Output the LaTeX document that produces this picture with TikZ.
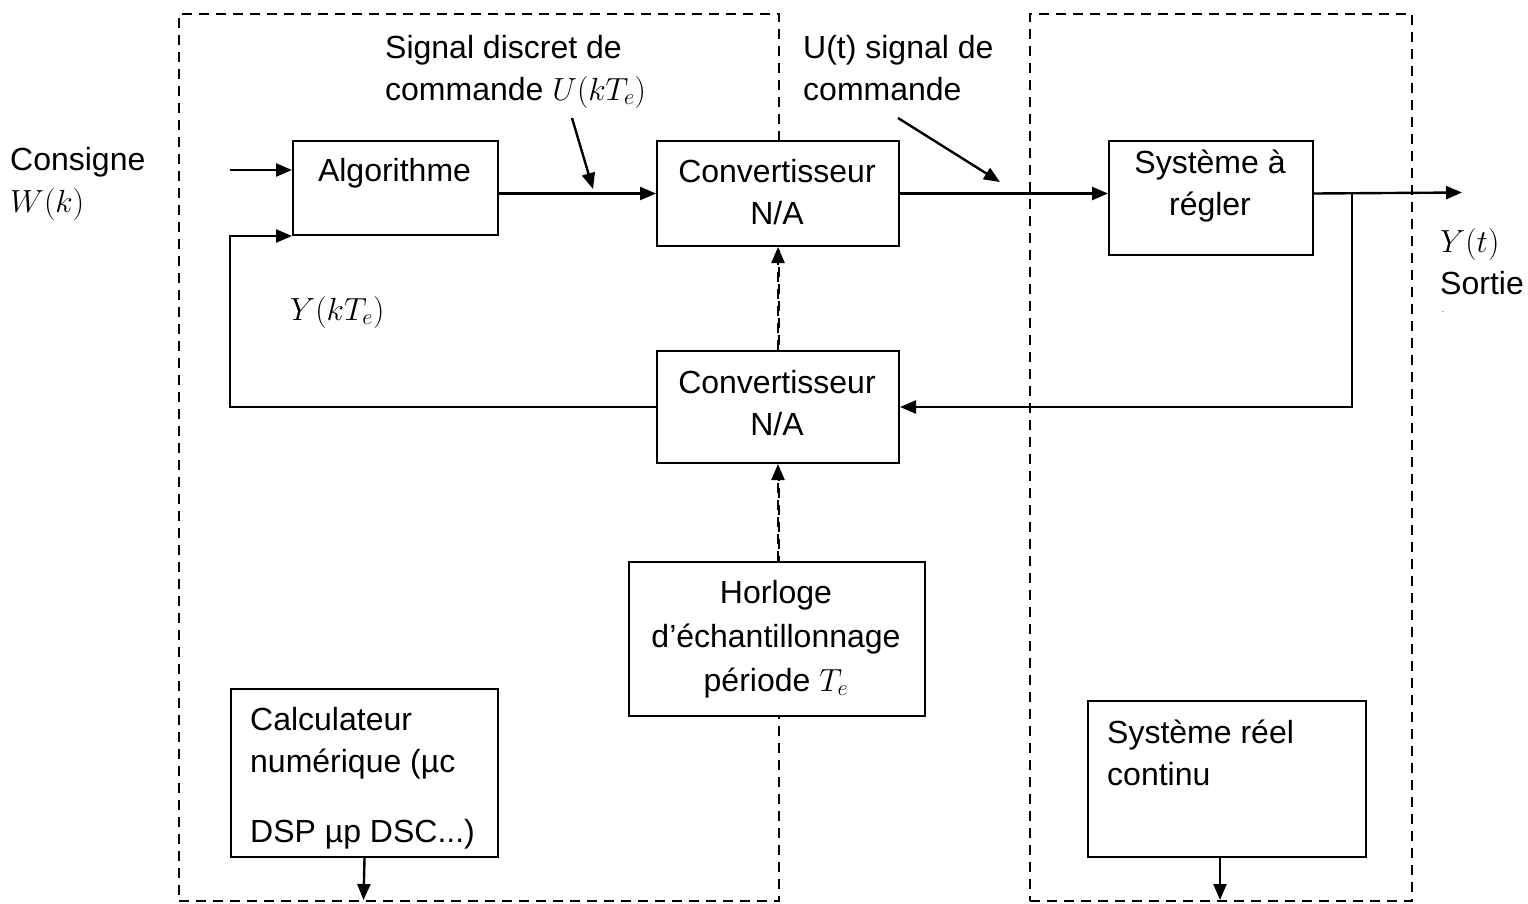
\RequirePackage{fix-cm}
\documentclass[tikz,border=0pt]{standalone}
\usepackage{fontspec}
\setmainfont{Liberation Sans}
\usetikzlibrary{arrows.meta}
\tikzset{
  blk/.style={draw, fill=white, line width=2pt, inner sep=0pt, anchor=north west},
  dbox/.style={draw, line width=2.2pt, dash pattern=on 10pt off 7pt, inner sep=0pt, anchor=north west},
  txt/.style={font=\fontsize{32}{42}\selectfont, inner sep=0pt, anchor=base},
  conn/.style={line width=2.4pt, -{Triangle[length=16pt,width=13pt]}},
  dconn/.style={line width=2.4pt, dash pattern=on 10pt off 7pt, -{Triangle[length=16pt,width=13pt]}},
}
\begin{document}
\begin{tikzpicture}[x=1pt,y=-1pt]
\useasboundingbox (0,0) rectangle (1528,903);
% dashed zones
\node[dbox, minimum width=600pt, minimum height=887pt] (lzone) at (178,13) {};
\node[dbox, minimum width=382pt, minimum height=887pt] (rzone) at (1029,13) {};
% blocks
\node[blk, minimum width=205pt, minimum height=94pt] (alg) at (292,140) {};
\node[blk, minimum width=242pt, minimum height=105pt] (ct) at (656,140) {};
\node[blk, minimum width=204pt, minimum height=114pt] (sys) at (1108,140) {};
\node[blk, minimum width=242pt, minimum height=112pt] (cb) at (656,350) {};
\node[blk, minimum width=296pt, minimum height=154pt] (hor) at (628,561) {};
\node[blk, minimum width=267pt, minimum height=168pt] (calc) at (230,688) {};
\node[blk, minimum width=278pt, minimum height=156pt] (sreel) at (1087,700) {};
% block texts (base anchor = baseline of last line)
\node[txt] (algt) at (394.5,181) {Algorithme};
\node[txt, align=center] (ctt) at (777,224) {Convertisseur\\N/A};
\node[txt, align=center] (syst) at (1210,215) {Système à\\régler};
\node[txt, align=center] (cbt) at (777,435) {Convertisseur\\N/A};
\node[txt, align=center, font=\fontsize{32}{44}\selectfont] (hort) at (776,691) {Horloge\\d’échantillonnage\\période $T_e$};
\node[txt, anchor=base west, align=left] (calct) at (250,772) {Calculateur\\numérique (µc};
\node[txt, anchor=base west] (calct2) at (250,842) {DSP µp DSC...)};
\node[txt, anchor=base west, align=left] (sreelt) at (1107,785) {Système réel\\continu};
% free labels
\node[txt, anchor=base west, align=left] (cons) at (10,212) {Consigne\\$W(k)$};
\node[txt, anchor=base west, align=left] (sd) at (385,100) {Signal discret de\\commande $U(kT_e)$};
\node[txt, anchor=base west, align=left] (ut) at (803,100) {U(t) signal de\\commande};
\node[txt, anchor=base west] (ykt) at (290,320) {$Y(kT_e)$};
\node[txt, anchor=base west, align=left] (yt) at (1440,294) {$Y(t)$\\Sortie};
\node[inner sep=0pt, font=\fontsize{8}{8}\selectfont] (dot) at (1443,312) {.};
% coordinates
\coordinate (inW) at (230,170);
\coordinate (fbx) at (230,300);
\coordinate (out) at (1462,192.5);
\coordinate (br) at (1352,192.5);
\coordinate (a1) at (572,118);
\coordinate (a2) at (593,189);
\coordinate (b1) at (898,118);
\coordinate (b2) at (1000,182);
\coordinate (calcEnd) at (363.5,900);
\coordinate (sreelEnd) at (1220,900);
% connectors
\draw[conn] (inW) -- (inW -| alg.west);
\draw[conn] (cb.west) -| (fbx) |- (alg.south west);
\draw[conn] (ct.west -| alg.east) -- (ct.west);
\draw[conn] (ct.east) -- (ct.east -| sys.west);
\draw[conn] (ct.east -| sys.east) -- (out);
\draw[conn] (br) |- (cb.east);
\draw[dconn] (cb.north) -- (ct.south);
\draw[dconn] (hor.north -| cb.south) -- (cb.south);
\draw[conn] (a1) -- (a2);
\draw[conn] (b1) -- (b2);
\draw[conn] (calc.south) -- (calcEnd);
\draw[conn] (sreelEnd |- sreel.south) -- (sreelEnd);
\end{tikzpicture}
\end{document}
